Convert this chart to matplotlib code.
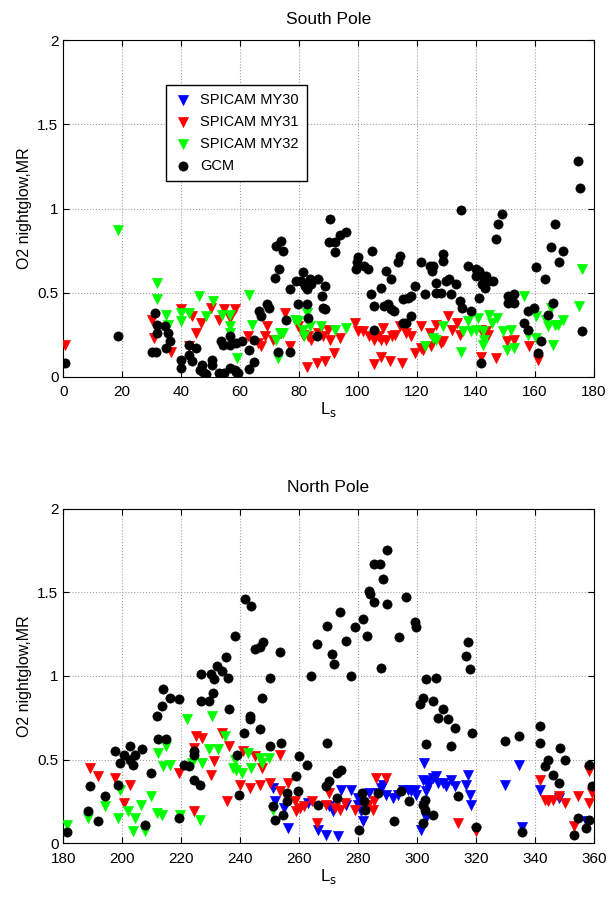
import numpy as np
import matplotlib as mpl
mpl.use('Agg')
import matplotlib.pyplot as plt

plt.rcParams['font.family'] = ['Liberation Sans', 'DejaVu Sans']

# (Ls, O2 nightglow MR)
# South Pole
south_my31 = [(0.6,0.19),(30,0.34),(30.8,0.23),(36.6,0.145),(40,0.40),(42.8,0.18),(43.7,0.36),(46.8,0.32),
   (45,0.26),(50,0.41),(53,0.34),(54.7,0.40),(56.6,0.35),(58.4,0.40),(62.7,0.24),(66.1,0.20),(67.2,0.18),
   (69,0.30),(68.4,0.24),(71.2,0.22),(74,0.26),(75.1,0.38),(76.8,0.18),(79.7,0.30),(81.4,0.25),(83,0.24),
   (84.2,0.22),(82.7,0.06),(86.1,0.08),(88.7,0.095),(86.4,0.26),(88.3,0.24),(90.4,0.22),(89.8,0.28),
   (91.9,0.14),(93.8,0.23),(98.9,0.32),(100,0.27),(101.7,0.27),(103.9,0.24),(105.3,0.22),(106.8,0.24),
   (107.9,0.22),(109.6,0.22),(108.5,0.29),(112.4,0.25),(111.7,0.24),(105.3,0.075),(107.9,0.12),(111,0.095),
   (115,0.08),(114.1,0.30),(116.4,0.26),(118.1,0.24),(115.8,0.30),(121.5,0.30),(119.2,0.14),(121.5,0.17),
   (124.9,0.18),(128.2,0.20),(128.8,0.21),(122,0.16),(130.7,0.36),(126.6,0.31),(124.3,0.26),(131.9,0.28),
   (133.6,0.32),(134.5,0.25),(141.8,0.28),(143.5,0.27),(144.1,0.25),(141.8,0.115),(146.9,0.11),(150.5,0.21),
   (153.1,0.22),(158.2,0.18),(161,0.10)]
south_my32 = [(18.6,0.87),(31.8,0.56),(31.8,0.46),(34.7,0.37),(35.5,0.31),(40,0.38),(40,0.33),(42.8,0.38),
   (46.2,0.48),(48.5,0.36),(50.7,0.45),(53.9,0.37),(56.6,0.37),(56.6,0.30),(56.6,0.26),(58.8,0.11),
   (63,0.485),(64.2,0.31),(72.3,0.22),(73.4,0.26),(74.6,0.26),(72.9,0.11),(78.5,0.34),(79.7,0.33),
   (82.7,0.38),(81.4,0.28),(83.6,0.30),(81.6,0.24),(87.6,0.30),(92.2,0.28),(95.8,0.29),(122.6,0.18),
   (125.4,0.23),(126.5,0.22),(128.8,0.30),(137.3,0.33),(140.7,0.35),(144.4,0.37),(147.1,0.35),(145.5,0.32),
   (135.6,0.27),(138.4,0.27),(140.2,0.28),(142.4,0.27),(149.2,0.27),(152,0.28),(142.9,0.22),(142.4,0.19),
   (135,0.15),(150.5,0.16),(153.1,0.17),(156.5,0.48),(160.5,0.36),(163.8,0.34),(165.5,0.41),(164.4,0.30),
   (166.7,0.31),(167.8,0.31),(169.7,0.34),(166.1,0.19),(157.6,0.25),(160.5,0.23),(175.9,0.64),(175.1,0.42)]
south_gcm = [(0.6,0.08),(18.6,0.24),(31,0.38),(31.8,0.31),(31.8,0.26),(30.2,0.145),(31.6,0.145),(34.4,0.30),
   (35.5,0.26),(36.3,0.21),(34.7,0.17),(40,0.10),(40,0.05),(42.6,0.19),(42.8,0.13),(43.7,0.095),(45,0.17),
   (47.1,0.07),(47.4,0.03),(48.5,0.015),(46.4,0.04),(50.5,0.10),(50.5,0.07),(53,0.02),(54.7,0.02),
   (53.6,0.21),(54.3,0.19),(56.6,0.24),(56.6,0.19),(58.6,0.20),(56.6,0.05),(58.6,0.03),(60.5,0.21),
   (58.3,0.04),(59.4,0.02),(63,0.16),(64.6,0.22),(64.6,0.09),(63,0.045),(66.4,0.39),(67.2,0.36),(69,0.43),
   (69.8,0.41),(71.8,0.59),(73.2,0.64),(72.3,0.78),(73.8,0.81),(74.6,0.75),(72.9,0.15),(75.7,0.34),
   (76.8,0.15),(77,0.52),(79.1,0.57),(81.4,0.62),(80.8,0.57),(81.9,0.54),(83,0.55),(83.6,0.58),(84.1,0.55),
   (82.7,0.52),(79.7,0.43),(82.7,0.43),(83.2,0.35),(86.4,0.58),(88.9,0.54),(87.9,0.48),(88.1,0.41),
   (88.7,0.40),(86.1,0.24),(90.4,0.94),(90.2,0.80),(92.1,0.80),(92.1,0.74),(94,0.84),(96,0.86),(100,0.71),
   (99.6,0.68),(99.2,0.64),(101.9,0.66),(103.4,0.64),(104.9,0.75),(104.5,0.49),(105.3,0.42),(105.6,0.28),
   (107.7,0.53),(109.5,0.63),(111.3,0.58),(108.7,0.42),(110.2,0.43),(111.3,0.40),(112.2,0.39),(114.3,0.72),
   (113.6,0.68),(115.3,0.46),(117,0.47),(118.1,0.48),(115.3,0.32),(116.4,0.32),(118.1,0.36),(119.5,0.54),
   (121.5,0.68),(124.3,0.66),(125.4,0.66),(125.2,0.63),(128.8,0.73),(129,0.69),(126.5,0.56),(129.9,0.57),
   (130.8,0.58),(133.3,0.55),(122.6,0.49),(126.5,0.50),(128.2,0.50),(131.6,0.49),(135,0.99),(137.3,0.66),
   (140.2,0.60),(140.2,0.64),(141,0.63),(142.4,0.60),(143.5,0.60),(144.4,0.57),(145.8,0.57),(142.2,0.55),
   (143,0.53),(148.9,0.97),(147.5,0.91),(146.9,0.82),(134.5,0.45),(135.4,0.41),(138.4,0.39),(141.2,0.47),
   (141.8,0.08),(150.8,0.48),(153.1,0.49),(150.8,0.44),(153.1,0.44),(157.6,0.39),(159.9,0.41),(156.5,0.32),
   (157.6,0.28),(162.1,0.21),(161,0.14),(160.5,0.65),(163.6,0.58),(165.5,0.77),(166.7,0.91),(168.1,0.68),
   (169.7,0.75),(166.1,0.44),(164.4,0.37),(174.8,1.28),(175.2,1.12),(175.9,0.27)]

# North Pole
north_my30 = [(251.2,0.33),(251.8,0.25),(254.8,0.21),(256.3,0.09),(263,0.24),(266.4,0.08),(269.3,0.05),
   (273.2,0.04),(270.2,0.22),(271.5,0.19),(274.4,0.32),(277.7,0.32),(275.8,0.23),(280,0.23),(281.2,0.19),
   (281.7,0.13),(280,0.27),(283.9,0.30),(286.8,0.30),(287.9,0.33),(288.5,0.35),(289.6,0.29),(291.9,0.27),
   (293.6,0.29),(295.3,0.32),(297,0.32),(298.1,0.31),(299.2,0.32),(299.8,0.29),(302.3,0.48),(302,0.38),
   (303.7,0.37),(305.4,0.39),(306.5,0.40),(307.1,0.36),(308.8,0.36),(309.9,0.34),(311.6,0.38),(312.8,0.34),
   (303.7,0.34),(303.2,0.31),(317.3,0.41),(316.5,0.35),(318.1,0.29),(318.4,0.23),(302.3,0.22),(303,0.15),
   (301.5,0.08),(330,0.35),(334.8,0.47),(335.7,0.095),(341.6,0.32),(348.1,0.27),(357.4,0.13)]
north_my31 = [(189.2,0.45),(191.8,0.40),(197.5,0.39),(200.5,0.24),(202.7,0.35),(219.2,0.42),(224.2,0.57),
   (225.1,0.64),(227.1,0.63),(224.2,0.19),(231,0.49),(230.1,0.41),(233.9,0.66),(236.1,0.58),(235.5,0.25),
   (241,0.55),(245,0.52),(247.3,0.45),(253.4,0.53),(239.9,0.35),(243.3,0.33),(246.9,0.35),(250.1,0.36),
   (253.4,0.31),(256.3,0.36),(258.5,0.25),(260.5,0.21),(259.1,0.19),(261.6,0.22),(264.5,0.25),(266.1,0.12),
   (269.3,0.23),(270.2,0.30),(272.1,0.21),(273.8,0.20),(275.5,0.24),(278.9,0.20),(285.1,0.20),(285.6,0.25),
   (286.2,0.39),(289.6,0.39),(283.4,0.23),(313.9,0.12),(320.1,0.07),(341.6,0.38),(343.3,0.26),(344.4,0.25),
   (346.1,0.26),(348.1,0.28),(350.4,0.24),(354.6,0.28),(358.5,0.24),(359.4,0.30),(358.5,0.43),(353.4,0.10)]
north_my32 = [(181.4,0.11),(188.5,0.15),(194.1,0.22),(199.2,0.32),(198.6,0.15),(202,0.19),(204.2,0.15),
   (203.7,0.07),(207.6,0.07),(206.5,0.23),(209.9,0.28),(211.8,0.18),(213.6,0.17),(212.1,0.54),(214.7,0.58),
   (213.8,0.46),(216.3,0.47),(219.5,0.17),(221.9,0.74),(223.7,0.48),(227.1,0.48),(226.4,0.14),(230.5,0.76),
   (229.6,0.56),(232.4,0.56),(235,0.64),(238.6,0.44),(238.2,0.50),(237.6,0.45),(240.6,0.42),(242.7,0.54),
   (243.6,0.45),(246.7,0.51),(247.3,0.48),(249.8,0.51),(251.2,0.20)]
north_gcm = [(181.4,0.065),(189.2,0.34),(188.5,0.19),(191.8,0.135),(194.1,0.28),(197.5,0.55),(199.2,0.48),
   (200.5,0.53),(202.5,0.50),(202.7,0.58),(203.7,0.47),(204.2,0.53),(206.8,0.56),(198.6,0.35),(207.6,0.11),
   (209.9,0.42),(211.8,0.76),(213.6,0.82),(213.8,0.92),(216.3,0.87),(219.2,0.86),(212.1,0.62),(214.7,0.62),
   (219.2,0.15),(221.1,0.47),(222.6,0.46),(224.5,0.55),(224.2,0.53),(224.2,0.38),(226.4,0.35),(226.8,0.85),
   (226.8,1.01),(229.6,0.85),(230.2,1.01),(231,0.98),(230.7,0.90),(232.1,1.06),(233.9,1.03),(235.3,1.11),
   (235.8,0.99),(236.1,0.80),(238.4,1.24),(238.8,0.53),(239.5,0.29),(241.6,1.46),(243.8,1.42),(245,1.16),
   (246.9,1.17),(247.8,1.20),(253.7,1.14),(250.3,0.99),(247.6,0.87),(243.3,0.76),(243.3,0.74),(246.9,0.68),
   (241.2,0.66),(250.3,0.58),(254,0.60),(251.2,0.22),(251.8,0.14),(254.6,0.17),(255.9,0.25),(255.9,0.30),
   (260,0.52),(259.1,0.40),(262.7,0.47),(259.7,0.31),(266.4,0.23),(269.3,0.34),(270.2,0.37),(272.9,0.42),
   (274.1,0.44),(272.9,0.27),(269.5,0.60),(264.2,1.0),(266.1,1.19),(269.5,1.30),(271.3,1.13),(271.8,1.07),
   (273.8,1.38),(275.8,1.21),(277.7,1.00),(278.9,1.29),(281.8,1.34),(283.1,1.24),(283.7,1.51),(284.2,1.49),
   (285.6,1.67),(287.6,1.67),(288.5,1.58),(289.8,1.75),(285.6,1.44),(289.8,1.43),(287.9,1.05),(296.4,1.47),
   (293.9,1.23),(281.4,0.30),(282.2,0.25),(282.5,0.20),(286.8,0.30),(280.3,0.08),(292.1,0.13),(294.7,0.31),
   (297.3,0.25),(299.2,1.32),(299.8,1.29),(303.2,0.98),(302,0.87),(300.9,0.83),(303,0.59),(302,0.23),
   (302,0.12),(306.6,0.99),(305.4,0.85),(309,0.80),(307.1,0.75),(310.5,0.74),(312.8,0.69),(317.3,1.20),
   (316.5,1.12),(318.1,1.04),(318.8,0.66),(311.6,0.58),(313.9,0.28),(305.6,0.17),(302.6,0.26),(302.6,0.20),
   (320.1,0.095),(330,0.61),(334.6,0.64),(335.7,0.065),(341.6,0.70),(341.6,0.60),(348.6,0.57),(350.4,0.50),
   (344.4,0.50),(343.6,0.46),(346.1,0.41),(348.1,0.36),(358.5,0.47),(359.4,0.34),(354.6,0.15),(353.4,0.05),
   (357.4,0.09),(358.3,0.14)]

labels = ["SPICAM MY30", "SPICAM MY31", "SPICAM MY32", "GCM"]


def draw_panel(ax, series, title, xlim, xticks):
   #series order: MY30, MY31, MY32, GCM (None if absent)
   styles = [('v', 'blue', 52), ('v', 'red', 52), ('v', '#00ff00', 52), ('o', 'black', 44)]
   handles = []
   for pts, (mk, col, sz), lab in zip(series, styles, labels):
      if pts is None or len(pts) == 0:
         pts = np.empty((0, 2))
      pts = np.array(pts)
      h = ax.scatter(pts[:, 0], pts[:, 1], marker=mk, s=sz, c=col, edgecolors=col,
                     linewidths=0.5, label=lab, zorder=3)
      handles.append(h)
   ax.set_xlim(xlim)
   ax.set_ylim(0, 2)
   ax.set_xticks(xticks)
   ax.set_yticks([0, 0.5, 1, 1.5, 2])
   ax.set_yticklabels(['0', '0.5', '1', '1.5', '2'])
   ax.grid(True, linestyle=':', color='#a0a0a0', linewidth=0.8)
   ax.set_axisbelow(True)
   ax.tick_params(direction='in', top=True, right=True, labelsize=11, length=4)
   ax.tick_params(axis='x', pad=6)
   ax.set_title(title, fontsize=12.5, pad=12)
   ax.set_xlabel(r'L$_{\rm s}$', fontsize=12, labelpad=1)
   ax.set_ylabel('O2 nightglow,MR', fontsize=11.5)
   return handles


fig = plt.figure(figsize=(6.14, 8.97), dpi=100)
ax1 = fig.add_axes([0.103, 0.580, 0.864, 0.375])
ax2 = fig.add_axes([0.103, 0.060, 0.864, 0.373])

hs = draw_panel(ax1, [None, south_my31, south_my32, south_gcm], 'South Pole', (0, 180),
                [0, 20, 40, 60, 80, 100, 120, 140, 160, 180])
draw_panel(ax2, [north_my30, north_my31, north_my32, north_gcm], 'North Pole', (180, 360),
           [180, 200, 220, 240, 260, 280, 300, 320, 340, 360])

leg = ax1.legend(handles=hs, labels=labels, loc='upper left', bbox_to_anchor=(0.18, 0.89),
                 fontsize=10.5, fancybox=False, edgecolor='black', framealpha=1,
                 handletextpad=0.6, borderpad=0.55, labelspacing=0.55, handlelength=1.2)
leg.get_frame().set_linewidth(1.0)

plt.savefig('out.png', dpi=100)
